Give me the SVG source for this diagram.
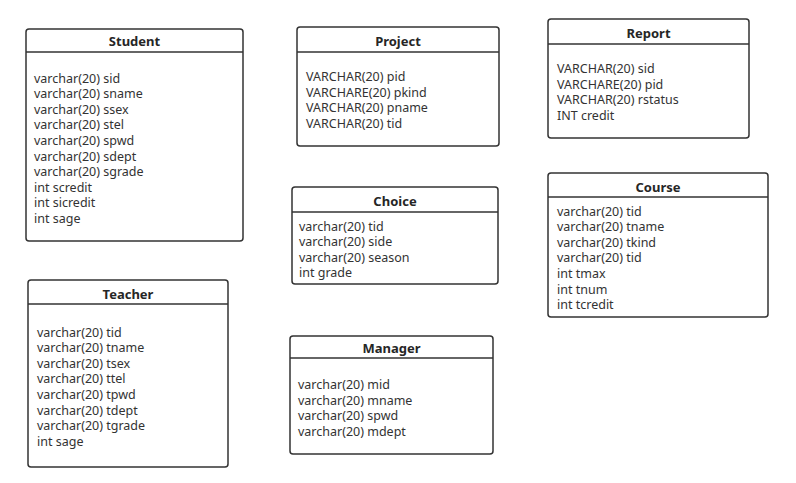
<svg xmlns="http://www.w3.org/2000/svg" width="796" height="483" viewBox="0 0 796 483">
<style>
.box{fill:#ffffff;stroke:#333333;stroke-width:1.5}
.sep{stroke:#333333;stroke-width:1.3}
.title{font-family:"Noto Sans","Open Sans",sans-serif;font-size:13px;font-weight:bold;fill:#262626;text-anchor:middle}
.row{font-family:"Noto Sans","Open Sans",sans-serif;font-size:12.5px;fill:#333333}
</style>
<rect width="796" height="483" fill="#ffffff"/>
<g id="Student">
<rect class="box" x="26" y="29" width="217" height="212" rx="3"/>
<line class="sep" x1="26" y1="52" x2="243" y2="52"/>
<text class="title" x="134.5" y="46">Student</text>
<text class="row" x="34" y="82.5">varchar(20) sid</text>
<text class="row" x="34" y="98.1">varchar(20) sname</text>
<text class="row" x="34" y="113.7">varchar(20) ssex</text>
<text class="row" x="34" y="129.3">varchar(20) stel</text>
<text class="row" x="34" y="144.9">varchar(20) spwd</text>
<text class="row" x="34" y="160.5">varchar(20) sdept</text>
<text class="row" x="34" y="176.1">varchar(20) sgrade</text>
<text class="row" x="34" y="191.7">int scredit</text>
<text class="row" x="34" y="207.3">int sicredit</text>
<text class="row" x="34" y="222.9">int sage</text>
</g>
<g id="Project">
<rect class="box" x="297" y="27" width="202" height="119" rx="3"/>
<line class="sep" x1="297" y1="52" x2="499" y2="52"/>
<text class="title" x="398" y="46">Project</text>
<text class="row" x="306" y="81">VARCHAR(20) pid</text>
<text class="row" x="306" y="96.6">VARCHARE(20) pkind</text>
<text class="row" x="306" y="112.2">VARCHAR(20) pname</text>
<text class="row" x="306" y="127.8">VARCHAR(20) tid</text>
</g>
<g id="Report">
<rect class="box" x="548" y="19" width="201" height="119" rx="3"/>
<line class="sep" x1="548" y1="44" x2="749" y2="44"/>
<text class="title" x="648.5" y="38">Report</text>
<text class="row" x="557" y="73">VARCHAR(20) sid</text>
<text class="row" x="557" y="88.6">VARCHARE(20) pid</text>
<text class="row" x="557" y="104.2">VARCHAR(20) rstatus</text>
<text class="row" x="557" y="119.8">INT credit</text>
</g>
<g id="Choice">
<rect class="box" x="292" y="187" width="206" height="97" rx="3"/>
<line class="sep" x1="292" y1="212" x2="498" y2="212"/>
<text class="title" x="395" y="206">Choice</text>
<text class="row" x="299" y="230.5">varchar(20) tid</text>
<text class="row" x="299" y="246.1">varchar(20) side</text>
<text class="row" x="299" y="261.7">varchar(20) season</text>
<text class="row" x="299" y="277.3">int grade</text>
</g>
<g id="Course">
<rect class="box" x="548" y="173" width="220" height="144" rx="3"/>
<line class="sep" x1="548" y1="197" x2="768" y2="197"/>
<text class="title" x="658" y="191.5">Course</text>
<text class="row" x="557" y="215.5">varchar(20) tid</text>
<text class="row" x="557" y="231.1">varchar(20) tname</text>
<text class="row" x="557" y="246.7">varchar(20) tkind</text>
<text class="row" x="557" y="262.3">varchar(20) tid</text>
<text class="row" x="557" y="277.9">int tmax</text>
<text class="row" x="557" y="293.5">int tnum</text>
<text class="row" x="557" y="309.1">int tcredit</text>
</g>
<g id="Teacher">
<rect class="box" x="28" y="280" width="200" height="187" rx="3"/>
<line class="sep" x1="28" y1="304" x2="228" y2="304"/>
<text class="title" x="128" y="298.5">Teacher</text>
<text class="row" x="37" y="336.5">varchar(20) tid</text>
<text class="row" x="37" y="352.1">varchar(20) tname</text>
<text class="row" x="37" y="367.7">varchar(20) tsex</text>
<text class="row" x="37" y="383.3">varchar(20) ttel</text>
<text class="row" x="37" y="398.9">varchar(20) tpwd</text>
<text class="row" x="37" y="414.5">varchar(20) tdept</text>
<text class="row" x="37" y="430.1">varchar(20) tgrade</text>
<text class="row" x="37" y="445.7">int sage</text>
</g>
<g id="Manager">
<rect class="box" x="290" y="336" width="203" height="118" rx="3"/>
<line class="sep" x1="290" y1="358" x2="493" y2="358"/>
<text class="title" x="391.5" y="352.5">Manager</text>
<text class="row" x="298" y="389">varchar(20) mid</text>
<text class="row" x="298" y="404.6">varchar(20) mname</text>
<text class="row" x="298" y="420.2">varchar(20) spwd</text>
<text class="row" x="298" y="435.8">varchar(20) mdept</text>
</g>
<g id="connectors"></g>
</svg>
